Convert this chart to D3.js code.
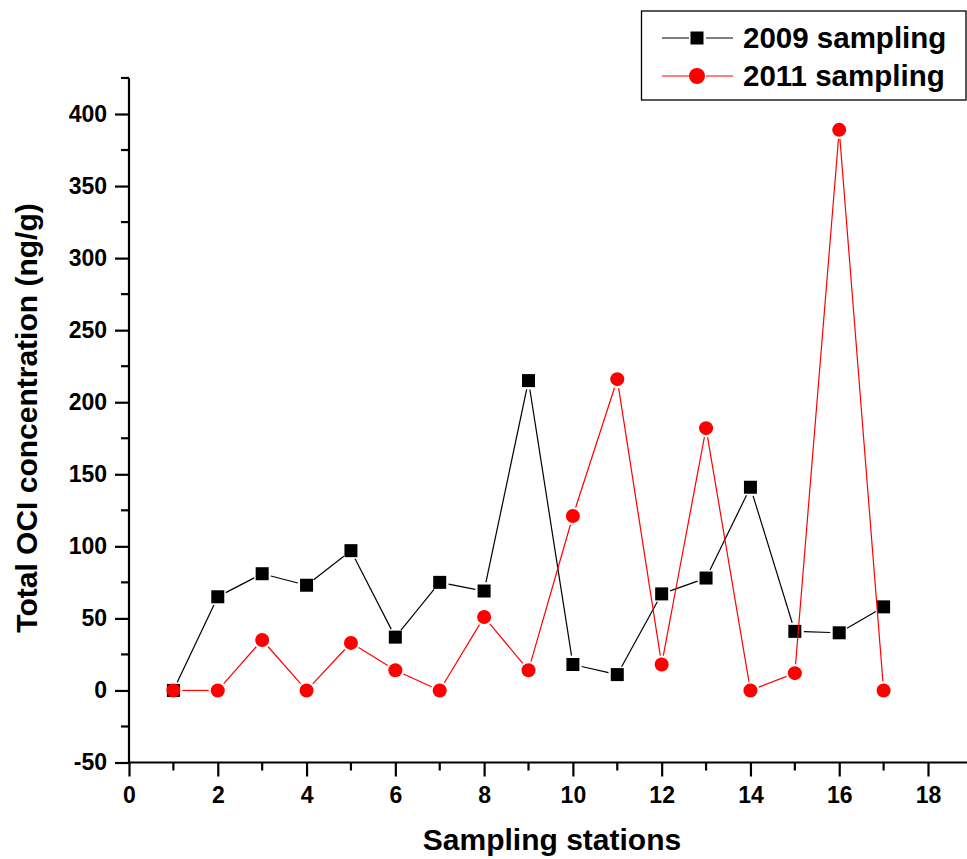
<!DOCTYPE html>
<html><head><meta charset="utf-8">
<script src="https://cdn.jsdelivr.net/npm/d3@7"></script>
<style>body{margin:0;background:#fff}svg{display:block}text{font-family:Arial,"Liberation Sans",sans-serif;font-weight:bold;fill:#000}</style>
</head><body>
<script>
const stations = [1,2,3,4,5,6,7,8,9,10,11,12,13,14,15,16,17];
const values2009 = [0,65,81,73,97,37,75,69,215,18,11,67,78,141,41,40,58];
const values2011 = [0,0,35,0,33,14,0,51,14,121,216,18,182,0,12,389,0];
const seriesNames = ["2009 sampling","2011 sampling"];
const seriesColors = ["#000000","#ff0000"];
const xTickValues = [0,2,4,6,8,10,12,14,16,18];
const yTickValues = [-50,0,50,100,150,200,250,300,350,400];
const xTitle = "Sampling stations";
const yTitle = "Total OCI concentration (ng/g)";

const W=967,H=859;
const svg=d3.select("body").append("svg").attr("width",W).attr("height",H);
const x=d3.scaleLinear().domain([0,18]).range([129,928]);
const y=d3.scaleLinear().domain([-50,400]).range([762.5,114]);
const xMax=x.invert(967), yMax=425;
const fmt=d=>String(d);

// axes
const gx=svg.append("g").attr("transform",`translate(0,${y(-50)})`);
gx.call(d3.axisBottom(x).tickValues(xTickValues).tickSize(14).tickPadding(10).tickFormat(fmt));
gx.select(".domain").attr("d",`M${x(0)},0H${x(xMax)}`);
const gy=svg.append("g").attr("transform",`translate(${x(0)},0)`);
gy.call(d3.axisLeft(y).tickValues(yTickValues).tickSize(14).tickPadding(8).tickFormat(fmt));
gy.select(".domain").attr("d",`M0,${y(-50)}V${y(yMax)}`);
[gx,gy].forEach(g=>{g.selectAll(".domain").attr("stroke","#000").attr("stroke-width",2.2);
  g.selectAll(".tick line").attr("stroke","#000").attr("stroke-width",2.2);
  g.selectAll(".tick text").style("font-size","23px").style("font-weight","bold");});
// minor ticks
const xMinor=d3.range(1,19,2);
svg.append("g").selectAll("line").data(xMinor).join("line")
  .attr("x1",d=>x(d)).attr("x2",d=>x(d)).attr("y1",y(-50)).attr("y2",y(-50)+8)
  .attr("stroke","#000").attr("stroke-width",2.2);
const yMinor=d3.range(-25,430,50);
svg.append("g").selectAll("line").data(yMinor).join("line")
  .attr("x1",x(0)-8).attr("x2",x(0)).attr("y1",d=>y(d)).attr("y2",d=>y(d))
  .attr("stroke","#000").attr("stroke-width",2.2);

// titles
svg.append("text").attr("x",552).attr("y",850).attr("text-anchor","middle").style("font-size","30px").text(xTitle);
svg.append("text").attr("transform","translate(37,418) rotate(-90)").attr("text-anchor","middle").style("font-size","30px").text(yTitle);

// series with gaps near markers
function drawSeries(vals,color,shape){
  const pts=stations.map((s,i)=>[x(s),y(vals[i])]);
  const gap=9;
  const g=svg.append("g");
  for(let i=0;i<pts.length-1;i++){
    const [x1,y1]=pts[i],[x2,y2]=pts[i+1];
    const dx=x2-x1,dy=y2-y1,L=Math.hypot(dx,dy);
    if(L<2*gap) continue;
    const ux=dx/L,uy=dy/L;
    g.append("line").attr("x1",x1+ux*gap).attr("y1",y1+uy*gap).attr("x2",x2-ux*gap).attr("y2",y2-uy*gap)
      .attr("stroke",color).attr("stroke-width",1.2);
  }
  pts.forEach(p=>{
    if(shape==="square") g.append("rect").attr("x",p[0]-6.5).attr("y",p[1]-6.5).attr("width",13).attr("height",13).attr("fill",color);
    else g.append("circle").attr("cx",p[0]).attr("cy",p[1]).attr("r",7).attr("fill",color);
  });
}
drawSeries(values2009,seriesColors[0],"square");
drawSeries(values2011,seriesColors[1],"circle");

// legend
const lg=svg.append("g");
lg.append("rect").attr("x",641.5).attr("y",11).attr("width",324.5).attr("height",89).attr("fill","#fff").attr("stroke","#000").attr("stroke-width",1.3);
seriesNames.forEach((n,i)=>{
  const cy=[38,76][i];
  lg.append("line").attr("x1",662).attr("x2",689).attr("y1",cy).attr("y2",cy).attr("stroke",seriesColors[i]).attr("stroke-width",1);
  lg.append("line").attr("x1",706).attr("x2",733).attr("y1",cy).attr("y2",cy).attr("stroke",seriesColors[i]).attr("stroke-width",1);
  if(i===0) lg.append("rect").attr("x",697-6.5).attr("y",cy-6.5).attr("width",13).attr("height",13).attr("fill",seriesColors[i]);
  else lg.append("circle").attr("cx",697).attr("cy",cy).attr("r",8).attr("fill",seriesColors[i]);
  lg.append("text").attr("x",743).attr("y",cy+10).style("font-size","29.5px").text(n);
});
</script>
</body></html>
